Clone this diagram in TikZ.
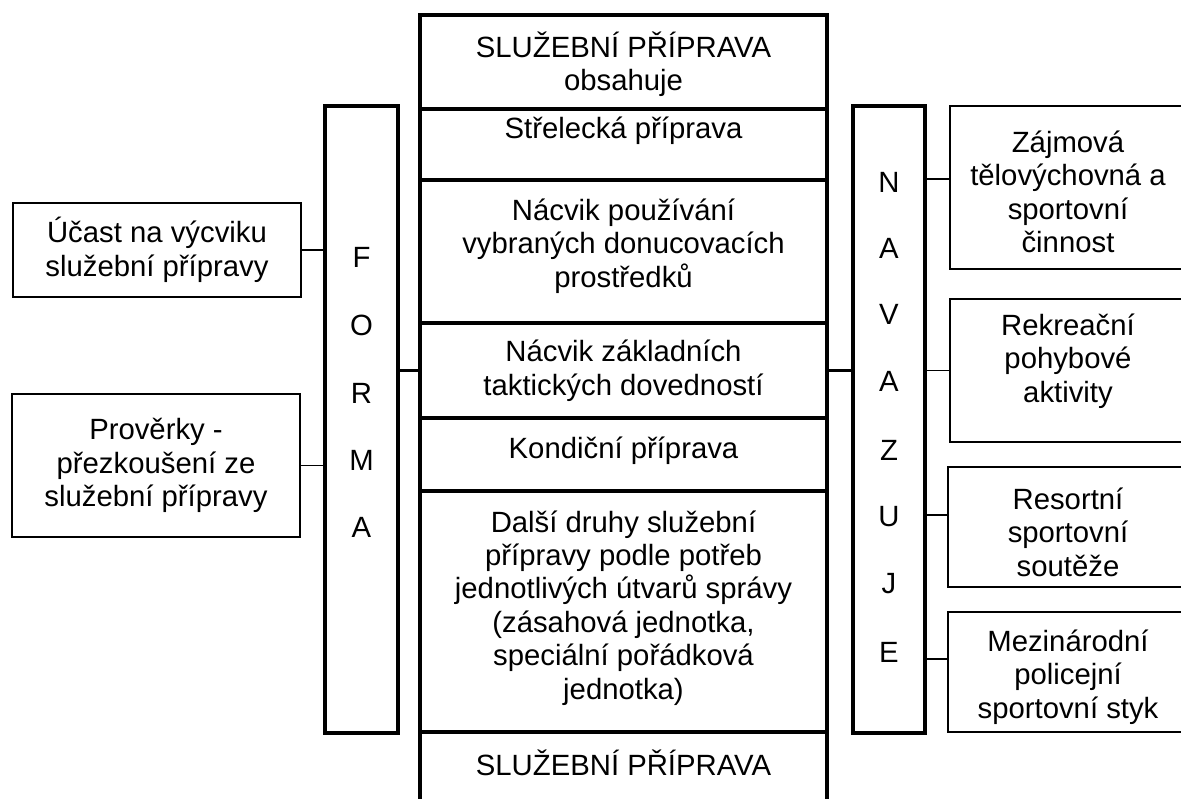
\documentclass[tikz,border=0pt]{standalone}
\usepackage{fontspec}
\setmainfont{Liberation Sans}
\begin{document}
\begin{tikzpicture}[x=1pt,y=-1pt,
  every node/.style={inner sep=0pt,outer sep=0pt},
  txt/.style={align=center,font=\fontsize{29.3}{33.5}\selectfont},
  letter/.style={font=\fontsize{29.3}{33.5}\selectfont},
  cell/.style={draw,line width=3.6pt,minimum width=407pt},
  bar/.style={draw,line width=3.6pt,minimum height=627pt},
  sidebox/.style={draw,line width=1.8pt},
  thin/.style={line width=1.8pt},
  thickc/.style={line width=3.6pt}]
\useasboundingbox (0,0) rectangle (1181,799);
% central column frames
\node[cell,minimum height=94pt]  (c0) at (623.5,62) {};
\node[cell,minimum height=71pt]  (c1) at (623.5,144.5) {};
\node[cell,minimum height=143pt] (c2) at (623.5,251.5) {};
\node[cell,minimum height=95pt]  (c3) at (623.5,370.5) {};
\node[cell,minimum height=73pt]  (c4) at (623.5,454.5) {};
\node[cell,minimum height=241pt] (c5) at (623.5,611.5) {};
\node[cell,minimum height=78pt]  (c6) at (623.5,771) {};
% central texts
\node[txt] (t0) at (623.5,64) {SLUŽEBNÍ PŘÍPRAVA\\obsahuje};
\node[txt] (t1) at (623.5,131) {Střelecká příprava};
\node[txt] (t2) at (623.5,246) {Nácvik používání\\vybraných donucovacích\\prostředků};
\node[txt] (t3) at (623.5,371) {Nácvik základních\\taktických dovedností};
\node[txt] (t4) at (623.5,451) {Kondiční příprava};
\node[txt] (t5) at (623.5,608) {Další druhy služební\\přípravy podle potřeb\\jednotlivých útvarů správy\\(zásahová jednotka,\\speciální pořádková\\jednotka)};
\node[txt] (t6) at (623.5,763) {SLUŽEBNÍ PŘÍPRAVA};
% FORMA and NAVAZUJE bars
\node[bar,minimum width=73pt] (F) at (361.5,419.5) {};
\node[bar,minimum width=72pt] (N) at (889,419.5) {};
\foreach \l/\y [count=\i] in {F/257,O/325,R/393,M/460,A/527}
  \node[letter] (f\i) at (361.5,\y) {\l};
\foreach \l/\y [count=\i] in {N/182,A/248,V/314,A/381,Z/450,U/517,J/584,E/652}
  \node[letter] (n\i) at (889,\y) {\l};
% left boxes
\node[sidebox,minimum width=288pt,minimum height=94pt,txt] (L1) at (157,250) {Účast na výcviku\\služební přípravy};
\node[sidebox,minimum width=288pt,minimum height=143pt,txt] (L2) at (156,465.5) {Prověrky -\\přezkoušení ze\\služební přípravy};
% right boxes
\node[sidebox,minimum width=236pt,minimum height=163pt] (R1) at (1068,187.5) {};
\node[sidebox,minimum width=236pt,minimum height=143pt] (R2) at (1068,370.5) {};
\node[sidebox,minimum width=238pt,minimum height=120pt] (R3) at (1067,527) {};
\node[sidebox,minimum width=238pt,minimum height=120pt] (R4) at (1067,672) {};
\node[txt] (r1t) at (1068,192) {Zájmová\\tělovýchovná a\\sportovní\\činnost};
\node[txt] (r2t) at (1068,361) {Rekreační\\pohybové\\aktivity};
\node[txt] (r3t) at (1068,532) {Resortní\\sportovní\\soutěže};
\node[txt] (r4t) at (1068,677) {Mezinárodní\\policejní\\sportovní styk};
% connectors
\draw[thin] (L1.east) -- (L1.east -| F.west);
\draw[thin] (L2.east) -- (L2.east -| F.west);
\draw[thickc] (c3.west -| F.east) -- (c3.west);
\draw[thickc] (c3.east) -- (c3.east -| N.west);
\draw[thin] ([yshift=8.5pt]R1.west) -- ([yshift=8.5pt]R1.west -| N.east);
\draw[thin] (R2.west) -- (R2.west -| N.east);
\draw[thin] ([yshift=12pt]R3.west) -- ([yshift=12pt]R3.west -| N.east);
\draw[thin] ([yshift=13pt]R4.west) -- ([yshift=13pt]R4.west -| N.east);
\end{tikzpicture}
\end{document}
